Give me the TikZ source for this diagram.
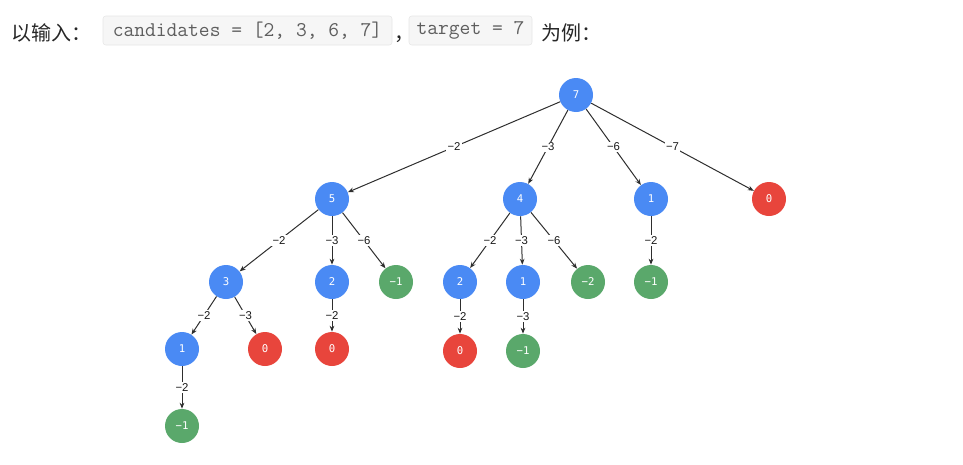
\documentclass[tikz,border=0pt]{standalone}
\usepackage{fontspec}
\setmainfont{Liberation Sans}
\newfontfamily\cjkfont{Noto Sans CJK SC}
\newfontfamily\numfont{DejaVu Sans Mono}
\usetikzlibrary{arrows.meta}
\definecolor{nodeblue}{HTML}{4A8AF4}
\definecolor{nodered}{HTML}{E8453C}
\definecolor{nodegreen}{HTML}{5AA86B}
\definecolor{edgegray}{HTML}{2E2E2E}
\definecolor{codegray}{HTML}{5E5E5E}
\definecolor{codebg}{HTML}{F6F6F6}
\definecolor{codeline}{HTML}{E6E6E6}

\begin{document}
\begin{tikzpicture}[x=0.75pt,y=-0.75pt,
  num/.style={circle,minimum size=25.5pt,inner sep=0pt,text=white,font=\numfont\fontsize{8}{9}\selectfont},
  go/.style={num,fill=nodeblue},
  hit/.style={num,fill=nodered},
  over/.style={num,fill=nodegreen},
  edge/.style={draw=edgegray,line width=0.75pt,-{Stealth[length=4.5pt,width=3.5pt]}},
  cut/.style={fill=white,inner sep=1pt,text=black!90,font=\fontsize{8.5}{9}\selectfont},
  code/.style={draw=codeline,fill=codebg,rounded corners=2pt,inner sep=0pt,text=codegray,minimum height=21.75pt,font=\ttfamily\fontsize{15.7}{17}\selectfont},
  head/.style={inner sep=0pt,anchor=base west,text=black!85,font=\cjkfont\fontsize{15}{16}\selectfont}]
\useasboundingbox (0,0) rectangle (963,464);

% heading line
\path (11,40) node[head](askin){以输入：}
  (247.5,30.5) node[code,minimum width=216.75pt](candbox){candidates = [2, 3, 6, 7]}
  (394,40) node[head](sep){，}
  (470.5,30.5) node[code,minimum width=92.25pt](targetbox){target = 7}
  (541,40) node[head](askex){为例：};

% tree of remainders
\path (576,95) node[go](root){7}
  (332,199) node[go](n5){5} (520,199) node[go](n4){4} (651,199) node[go](n1){1} (769,199) node[hit](n0){0}
  (226,282) node[go](n53){3} (332,282) node[go](n52){2} (396,282) node[over](n5m1){−1}
  (460,282) node[go](n42){2} (523,282) node[go](n41){1} (588,282) node[over](n4m2){−2}
  (651,282) node[over](n1m1){−1}
  (182,349) node[go](n531){1} (265,349) node[hit](n530){0} (332,349) node[hit](n520){0}
  (460,351) node[hit](n420){0} (523,351) node[over](n41m1){−1}
  (182,426) node[over](n531m1){−1};

\draw[edge] (root) -- node[cut]{−2} (n5);
\draw[edge] (root) -- node[cut]{−3} (n4);
\draw[edge] (root) -- node[cut]{−6} (n1);
\draw[edge] (root) -- node[cut]{−7} (n0);
\draw[edge] (n5) -- node[cut]{−2} (n53);
\draw[edge] (n5) -- node[cut]{−3} (n52);
\draw[edge] (n5) -- node[cut]{−6} (n5m1);
\draw[edge] (n53) -- node[cut]{−2} (n531);
\draw[edge] (n53) -- node[cut]{−3} (n530);
\draw[edge] (n531) -- node[cut]{−2} (n531m1);
\draw[edge] (n52) -- node[cut]{−2} (n520);
\draw[edge] (n4) -- node[cut]{−2} (n42);
\draw[edge] (n4) -- node[cut]{−3} (n41);
\draw[edge] (n4) -- node[cut]{−6} (n4m2);
\draw[edge] (n42) -- node[cut]{−2} (n420);
\draw[edge] (n41) -- node[cut]{−3} (n41m1);
\draw[edge] (n1) -- node[cut]{−2} (n1m1);
\end{tikzpicture}
\end{document}
